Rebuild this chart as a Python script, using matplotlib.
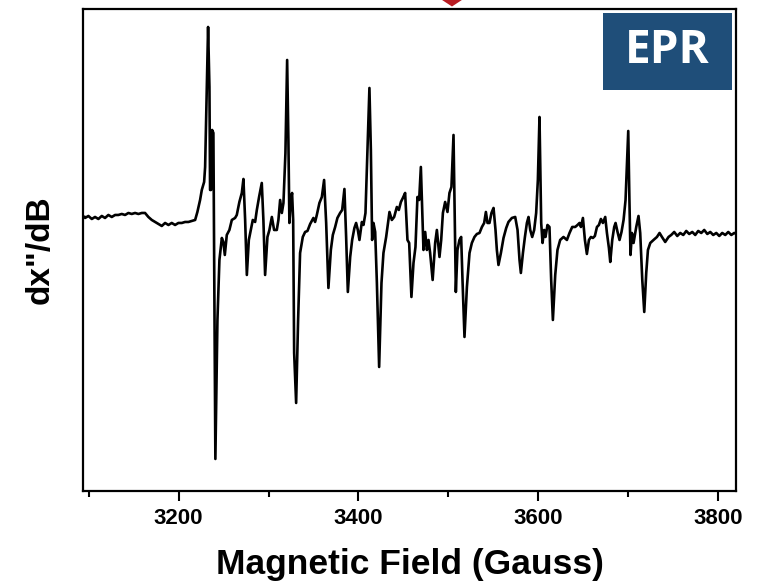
import matplotlib
matplotlib.use("Agg")
import matplotlib.pyplot as plt
from matplotlib.patches import Rectangle, Polygon
from matplotlib.ticker import MultipleLocator
from matplotlib.transforms import blended_transform_factory

plt.rcParams['font.family'] = ['Liberation Sans', 'DejaVu Sans']

# Magnetic field (Gauss)
field = [
    3095.4, 3096.0, 3099.7, 3103.5, 3107.1, 3110.8, 3114.6, 3118.2, 3121.9, 3125.7,
    3129.4, 3133.0, 3136.8, 3140.5, 3144.2, 3147.9, 3151.6, 3155.3, 3159.1, 3162.7,
    3166.4, 3170.2, 3173.9, 3177.5, 3181.3, 3185.0, 3188.7, 3192.4, 3196.1, 3199.8,
    3203.6, 3207.2, 3210.9, 3214.7, 3218.4, 3220.9, 3223.9, 3225.8, 3228.4, 3229.5,
    3231.4, 3232.8, 3234.3, 3235.0, 3236.1, 3237.3, 3238.7, 3239.5, 3240.9, 3243.2,
    3245.4, 3248.1, 3249.8, 3251.4, 3253.6, 3256.5, 3259.2, 3262.8, 3264.7, 3267.6,
    3270.3, 3272.1, 3274.0, 3275.9, 3278.1, 3280.3, 3282.5, 3285.1, 3287.0, 3289.5,
    3292.5, 3294.3, 3296.2, 3298.8, 3301.0, 3303.7, 3306.2, 3309.2, 3311.0, 3312.9,
    3314.8, 3316.6, 3318.8, 3320.7, 3322.1, 3323.2, 3324.8, 3326.2, 3327.4, 3328.5,
    3330.7, 3332.9, 3335.1, 3338.1, 3340.7, 3343.3,
    3346.3, 3349.9, 3351.8, 3353.7, 3356.6, 3359.3, 3361.8, 3364.1, 3366.6, 3369.3,
    3371.5, 3374.1, 3376.6, 3379.6, 3381.9, 3384.4, 3386.3, 3388.2, 3390.8, 3393.0,
    3395.5, 3397.4, 3399.3, 3401.1, 3403.8, 3405.6, 3407.8, 3410.0, 3412.2, 3413.8,
    3415.2, 3416.7, 3418.6, 3420.5, 3423.0, 3425.6, 3427.8, 3430.8, 3434.5, 3437.1,
    3439.7, 3442.7, 3444.9, 3447.2, 3449.4, 3451.9, 3454.5, 3456.4, 3458.9, 3461.2,
    3463.4, 3465.6, 3467.5, 3469.4, 3471.2, 3472.3, 3474.2, 3476.1, 3477.9, 3479.7,
    3482.5, 3485.3, 3487.2, 3490.1, 3492.0, 3493.9, 3496.4, 3499.0, 3501.2, 3503.4,
    3505.7, 3507.0, 3508.3, 3510.1, 3512.3, 3514.2, 3515.7, 3517.9, 3520.6, 3523.5,
    3526.1, 3529.0, 3531.7, 3534.6, 3537.3, 3539.8, 3541.7, 3543.5, 3545.7, 3547.9,
    3550.2, 3552.4, 3553.9, 3555.7, 3558.4, 3561.3, 3564.3, 3566.8, 3570.6, 3574.3,
    3576.9, 3579.1, 3580.6, 3582.9, 3585.1, 3587.3, 3589.1, 3591.0, 3593.2, 3595.4,
    3597.6, 3599.5, 3601.3, 3602.4, 3603.2, 3604.7, 3606.5, 3608.0, 3610.2, 3612.4,
    3614.3, 3616.2, 3618.8, 3621.3, 3624.3, 3628.0, 3631.8, 3634.7, 3637.7, 3641.0,
    3643.6, 3645.8, 3647.4, 3649.6, 3651.8, 3654.0, 3656.3, 3658.5, 3660.7, 3662.9,
    3665.2, 3667.4, 3669.6, 3671.8, 3674.4, 3676.3, 3678.5, 3680.0, 3682.2, 3684.4,
    3685.9, 3688.1, 3690.3, 3692.5, 3694.8, 3697.0, 3700.0, 3701.3, 3702.5, 3704.1,
    3705.9, 3708.9, 3711.4, 3713.3, 3715.6, 3717.8, 3720.0, 3721.9, 3724.5, 3728.1,
    3731.9, 3734.8, 3737.5, 3741.1, 3744.8, 3747.8, 3751.1, 3754.5, 3757.8, 3761.2,
    3764.5, 3767.8, 3771.2, 3774.5, 3777.8, 3781.2, 3784.5, 3787.9, 3791.2, 3794.5,
    3797.9, 3801.2, 3804.5, 3807.9, 3811.2, 3814.6, 3817.9, 3820.1,
]

# First-derivative EPR signal (arbitrary units)
signal = [
    -0.01, -0.02, 0.00, -0.03, -0.01, -0.03, 0.00, -0.02, 0.01, -0.01,
    0.01, 0.01, 0.02, 0.01, 0.03, 0.02, 0.03, 0.02, 0.03, 0.03,
    -0.01, -0.04, -0.06, -0.08, -0.10, -0.07, -0.09, -0.07, -0.09, -0.07,
    -0.07, -0.06, -0.06, -0.05, -0.04, 0.04, 0.16, 0.26, 0.34, 0.49,
    1.29, 1.89, 1.29, 0.26, 0.26, 0.86, 0.83, -0.37, -2.43, -1.04,
    -0.44, -0.22, -0.26, -0.39, -0.19, -0.14, -0.04, -0.02, 0.01, 0.14,
    0.23, 0.37, -0.04, -0.59, -0.24, -0.14, -0.04, -0.06, 0.06, 0.19,
    0.33, -0.04, -0.59, -0.21, -0.14, -0.01, -0.14, -0.14, -0.04, 0.16,
    0.03, 0.13, 0.63, 1.56, 0.76, -0.07, 0.16, 0.23, -0.04, -1.37,
    -1.87, -1.04, -0.37, -0.21, -0.16, -0.15,
    -0.08, -0.02, -0.06, 0.01, 0.13, 0.19, 0.36, -0.07, -0.72, -0.34,
    -0.19, -0.11, -0.02, 0.03, 0.06, 0.27, -0.21, -0.76, -0.41, -0.24,
    -0.12, -0.07, -0.14, -0.24, -0.06, -0.09, 0.03, 0.66, 1.28, 0.66,
    -0.24, -0.07, -0.16, -0.67, -1.51, -0.67, -0.37, -0.21, 0.04, -0.04,
    -0.01, 0.09, 0.06, 0.14, 0.18, 0.23, -0.24, -0.27, -0.81, -0.47,
    -0.31, 0.19, 0.16, 0.49, -0.01, -0.34, -0.16, -0.34, -0.24, -0.37,
    -0.64, -0.27, -0.14, -0.41, -0.24, 0.03, 0.14, 0.04, 0.23, 0.29,
    0.81, 0.06, -0.76, -0.34, -0.24, -0.21, -0.64, -1.21, -0.71, -0.37,
    -0.27, -0.21, -0.18, -0.17, -0.11, -0.07, 0.04, -0.07, -0.07, 0.03,
    0.08, -0.14, -0.34, -0.49, -0.37, -0.22, -0.12, -0.06, -0.02, -0.01,
    -0.14, -0.44, -0.57, -0.37, -0.21, -0.07, -0.01, -0.14, -0.21, -0.14,
    0.03, 0.36, 0.99, 0.36, -0.07, -0.27, -0.14, -0.21, -0.09, -0.11,
    -0.64, -1.04, -0.59, -0.34, -0.24, -0.21, -0.24, -0.17, -0.11, -0.11,
    -0.09, -0.07, -0.11, -0.02, -0.24, -0.38, -0.24, -0.21, -0.22, -0.20,
    -0.11, -0.09, -0.03, -0.07, -0.01, -0.17, -0.32, -0.46, -0.24, -0.11,
    -0.07, -0.16, -0.24, -0.16, -0.04, 0.16, 0.85, 0.16, -0.39, -0.17,
    -0.27, -0.11, 0.00, -0.17, -0.64, -0.96, -0.57, -0.34, -0.27, -0.24,
    -0.21, -0.17, -0.21, -0.26, -0.21, -0.19, -0.16, -0.20, -0.17, -0.19,
    -0.15, -0.18, -0.16, -0.19, -0.15, -0.17, -0.14, -0.18, -0.16, -0.19,
    -0.17, -0.20, -0.17, -0.19, -0.16, -0.19, -0.17, -0.18,
]

xticks = [3200, 3400, 3600, 3800]
x_range = (3093.7, 3819.8)
y_range = (-2.75, 2.07)
marker_field = 3504

fig = plt.figure(figsize=(7.6, 5.82), dpi=100)
ax = fig.add_axes([0.1092, 0.1564, 0.8592, 0.8282])

ax.plot(field, signal, color='black', linewidth=1.9, solid_joinstyle='round')

ax.set_xlim(*x_range)
ax.set_ylim(*y_range)
ax.set_xticks(xticks)
ax.xaxis.set_minor_locator(MultipleLocator(100))
ax.set_yticks([])
for lbl in ax.get_xticklabels():
    lbl.set_fontweight('bold')
ax.tick_params(axis='x', which='major', direction='out', length=7, width=1.5,
               labelsize=16, pad=5)
ax.tick_params(axis='x', which='minor', direction='out', length=4, width=1.5)
for sp in ax.spines.values():
    sp.set_linewidth(1.6)

ax.set_xlabel('Magnetic Field (Gauss)', fontsize=25.5, fontweight='bold', va='center')
ax.xaxis.set_label_coords(0.5, -0.152)
ax.set_ylabel('dx"/dB', fontsize=24, fontweight='bold', va='center')
ax.yaxis.set_label_coords(-0.066, 0.5)

# EPR badge
fig.patches.append(Rectangle((0.7934, 0.8454), 0.1697, 0.1323,
                             transform=fig.transFigure, facecolor='#1f4e79',
                             edgecolor='none', zorder=5))
fig.text(0.8783, 0.9135, 'EPR', color='white', fontsize=33, fontweight='bold',
         family=['Open Sans', 'DejaVu Sans'], ha='center', va='center', zorder=6)

# red marker peeking in at the top edge
trans = blended_transform_factory(ax.transData, fig.transFigure)
half_w = 11
ax.add_patch(Polygon([(marker_field - half_w, 1.0), (marker_field + half_w, 1.0),
                      (marker_field, 1 - 6.5 / 582)], closed=True,
                     transform=trans, facecolor='#b81c22', edgecolor='none',
                     clip_on=False, zorder=0))

fig.savefig('out.png', dpi=100)
